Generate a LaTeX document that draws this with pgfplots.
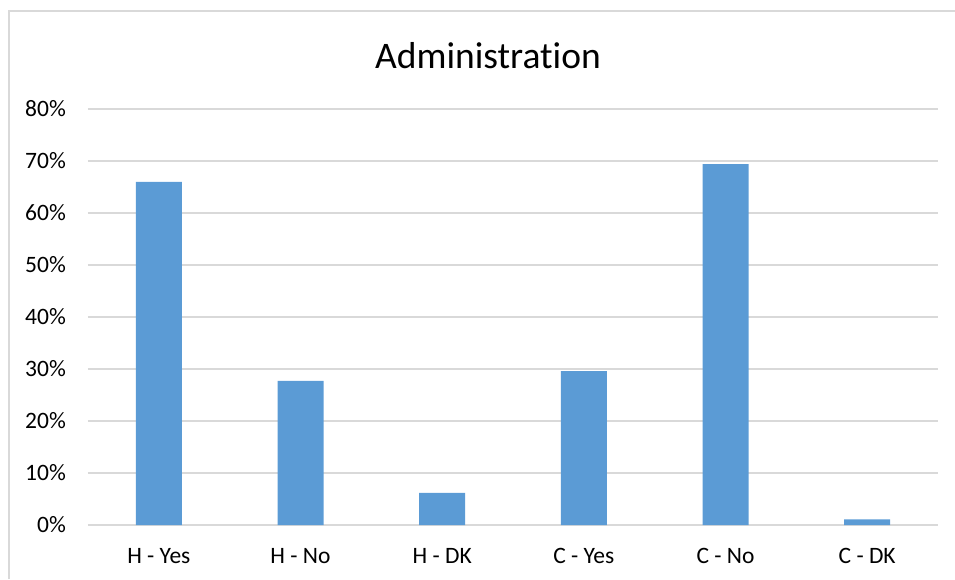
\documentclass[border=0pt]{standalone}
\usepackage{pgfplots}
\pgfplotsset{compat=1.18}
\usepackage{fontspec}
\setmainfont[Ligatures=NoCommon]{Carlito}
\definecolor{barblue}{HTML}{5B9BD5}
\definecolor{gridgray}{HTML}{D9D9D9}
\begin{document}
\begin{tikzpicture}[x=1pt,y=1pt]
\useasboundingbox (-88,-54) rectangle (867,525);
\draw[gridgray, line width=1.3pt] (-79,-54) -- (-79,514) -- (867,514);
\begin{axis}[
  at={(0,0)}, anchor=south west,
  scale only axis, width=850pt, height=416pt,
  xmin=-0.5, xmax=5.5, ymin=0, ymax=80,
  ytick={0,10,...,80},
  xtick=data,
  xticklabels={H - Yes, H - No, H - DK, C - Yes, C - No, C - DK},
  yticklabel={\pgfmathprintnumber{\tick}\%},
  /pgf/number format/assume math mode=true,
  ymajorgrids, major grid style={gridgray, line width=1.3pt},
  axis line style={draw=none},
  major tick length=0pt,
  tick style={draw=none},
  ticklabel style={font=\fontsize{23.5}{28}\selectfont, text=black},
  yticklabel style={anchor=east, inner sep=0pt, xshift=-22pt},
  xticklabel style={anchor=center, inner sep=0pt, yshift=-31pt},
  ybar, bar width=46pt,
  title={Administration},
  title style={font=\fontsize{37.5}{44}\selectfont, anchor=center, at={(0.5,1)}, xshift=-25pt, yshift=47pt},
  clip=false,
]
\addplot[fill=barblue, draw=none] coordinates {(0,66.0) (1,27.7) (2,6.2) (3,29.6) (4,69.4) (5,1.1)};
\end{axis}
\end{tikzpicture}
\end{document}
